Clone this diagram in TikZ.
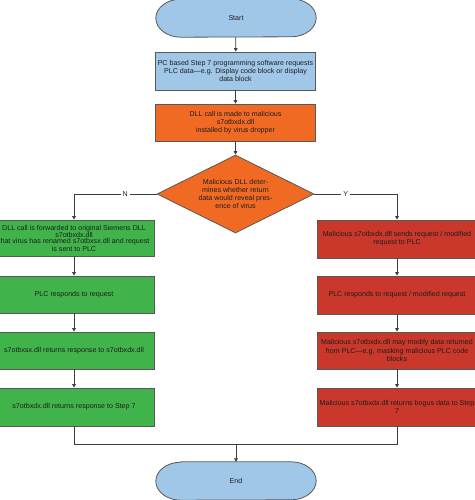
\documentclass[tikz,border=0pt]{standalone}
\usepackage{fontspec}
\setmainfont{Liberation Sans}
\usetikzlibrary{arrows.meta,shapes.geometric,backgrounds}
\definecolor{termblue}{RGB}{160,199,232}
\definecolor{boxorange}{RGB}{241,106,36}
\definecolor{boxgreen}{RGB}{64,180,74}
\definecolor{boxred}{RGB}{201,56,42}
\definecolor{edgegray}{RGB}{88,88,88}
\definecolor{linegray}{RGB}{60,60,60}
\definecolor{txt}{RGB}{30,30,30}
\begin{document}
\begin{tikzpicture}[x=1pt,y=1pt,
  font=\fontsize{7.1}{8.3}\selectfont, text=txt,
  base/.style={draw=edgegray, line width=0.8pt, align=center, inner sep=1pt, minimum width=160pt},
  procbox/.style={base, rectangle, minimum height=37pt},
  bluebox/.style={procbox, fill=termblue},
  orangebox/.style={procbox, fill=boxorange},
  greenbox/.style={procbox, fill=boxgreen},
  redbox/.style={procbox, fill=boxred},
  termnode/.style={align=center, minimum width=160pt, minimum height=38pt, inner sep=0pt},
  termshape/.style={draw=edgegray, line width=0.8pt, fill=termblue},
  decision/.style={diamond, draw=edgegray, line width=0.8pt, fill=boxorange, align=center,
     inner sep=0pt, shape aspect=2, minimum width=157pt, minimum height=78pt},
  conn/.style={draw=linegray, line width=0.8pt},
  arr/.style={conn, -{Triangle[length=3.5pt,width=3.6pt]}},
  lbl/.style={fill=white, inner sep=2pt, text=txt}
]
\useasboundingbox (0,0) rectangle (474,-500);

% terminators
\node[termnode] (start) at (236,-18) {Start};
\node[termnode] (end) at (236,-481) {End};
\begin{pgfonlayer}{background}
\foreach \t in {start,end}{
  \path[termshape] ([xshift=25pt]\t.north west) -- ([xshift=-25pt]\t.north east)
    arc[start angle=90, end angle=-90, x radius=25pt, y radius=19pt]
    -- ([xshift=25pt]\t.south west)
    arc[start angle=270, end angle=90, x radius=25pt, y radius=19pt] -- cycle;
}
\end{pgfonlayer}

% main column
\node[bluebox, minimum height=38pt] (b1) at (235.5,-71) {PC based Step 7 programming software requests\\PLC data---e.g. Display code block or display\\data block};
\node[orangebox] (b2) at (235.5,-122.5) {DLL call is made to malicious\\s7otbxdx.dll\\installed by virus dropper};
\node[decision] (dia) at (235.5,-194) {Malicious DLL deter-\\mines whether return\\data would reveal pres-\\ence of virus};

% left column
\node[greenbox, minimum height=36pt, font=\fontsize{7.1}{5.8}\selectfont] (l1) at (74,-238) {DLL call is forwarded to original Siemens DLL\\s7otbxdx.dll\\that virus has renamed s7otbxsx.dll and request\\is sent to PLC};
\node[greenbox] (l2) at (74,-294.5) {PLC responds to request};
\node[greenbox] (l3) at (74,-350.5) {s7otbxsx.dll returns response to s7otbxdx.dll};
\node[greenbox, minimum height=38pt] (l4) at (74,-407) {s7otbxdx.dll returns response to Step 7};

% right column
\node[redbox, minimum height=38pt] (r1) at (397,-239) {Malicious s7otbxdx.dll sends request / modified\\request to PLC};
\node[redbox, minimum height=38pt] (r2) at (397,-295) {PLC responds to request / modified request};
\node[redbox] (r3) at (397,-350.5) {Malicious s7otbxdx.dll may modify data returned\\from PLC---e.g. masking malicious PLC code\\blocks};
\node[redbox, minimum height=38pt] (r4) at (397,-407) {Malicious s7otbxdx.dll returns bogus data to Step\\7};

\coordinate (merge) at (236,-444);

% connectors
\draw[arr] (start) -- (b1);
\draw[arr] (b1) -- (b2);
\draw[arr] (b2) -- (dia);
\draw[arr] (dia.west) -| node[lbl, pos=0.19] {N} (l1.north);
\draw[arr] (dia.east) -| node[lbl, pos=0.19] {Y} (r1.north);
\draw[arr] (l1) -- (l2);
\draw[arr] (l2) -- (l3);
\draw[arr] (l3) -- (l4);
\draw[arr] (r1) -- (r2);
\draw[arr] (r2) -- (r3);
\draw[arr] (r3) -- (r4);
\draw[conn] (l4.south) |- (merge);
\draw[conn] (r4.south) |- (merge);
\draw[arr] (merge) -- (end.north);
\end{tikzpicture}
\end{document}
